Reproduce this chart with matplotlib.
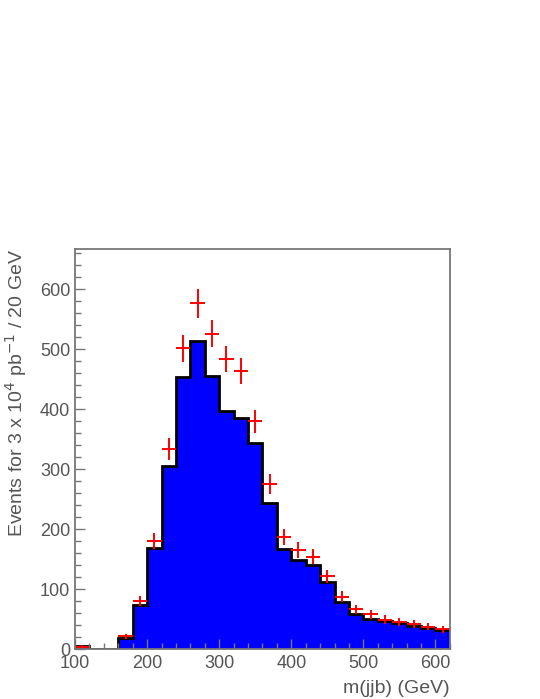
import numpy as np
import matplotlib.pyplot as plt

# bin edges in m(jjb), 20 GeV bins
bin_edges = list(range(100, 640, 20))
# simulated histogram (blue)
hist_counts = [5, 0, 0, 19, 74, 168, 305, 453, 514, 456, 397, 386, 343, 243,
               167, 148, 140, 112, 78, 58, 50, 46, 43, 39, 35, 31]
# pseudo-data points (red crosses)
data_x = [110, 170, 190, 210, 230, 250, 270, 290, 310, 330, 350, 370, 390,
          410, 430, 450, 470, 490, 510, 530, 550, 570, 590, 610]
data_y = [4, 21, 80, 180, 334, 502, 577, 526, 484, 464, 380, 276, 187,
          165, 154, 121, 87, 66, 58, 49, 45, 42, 37, 33]
data_yerr = [2, 4.6, 9, 13.4, 18.3, 22.4, 24, 22.9, 22, 21.5, 19.5, 16.6, 13.7,
             12.8, 12.4, 11, 9.3, 8.1, 7.6, 7, 6.7, 6.5, 6.1, 5.7]

grey = '#555555'
plt.rcParams['font.family'] = ['Liberation Sans', 'DejaVu Sans']

fig = plt.figure(figsize=(5.4, 6.99), dpi=100)
ax = fig.add_axes([0.139, 0.0715, 0.694, 0.572])

ax.stairs(hist_counts, bin_edges, fill=True, color='#0000ff')
ax.stairs(hist_counts, bin_edges, color='black', linewidth=2)
ax.errorbar(data_x, data_y, yerr=data_yerr, xerr=10, fmt='none',
            ecolor='red', elinewidth=1.4, capsize=0)

ax.set_xlim(100, 620)
ax.set_ylim(0, 667)
ax.set_xticks([100, 200, 300, 400, 500, 600])
ax.set_xticks(range(100, 621, 20), minor=True)
ax.set_yticks(range(0, 601, 100))
ax.set_yticks(range(0, 661, 20), minor=True)
ax.tick_params(which='both', direction='in', colors='#777777',
               labelcolor=grey, labelsize=13, top=False, right=False)
ax.tick_params(which='major', length=7, width=1)
ax.tick_params(which='minor', length=4, width=1)
ax.tick_params(axis='x', pad=4)
for s in ax.spines.values():
    s.set_color('#777777')
    s.set_linewidth(1.3)

ax.set_xlabel('m(jjb) (GeV)', color=grey, fontsize=14, loc='right', labelpad=6)
ax.set_ylabel('Events for 3 x 10$^4$ pb$^{-1}$ / 20 GeV', color=grey,
              fontsize=14, loc='top', labelpad=8)

fig.savefig('out.png', dpi=100)
